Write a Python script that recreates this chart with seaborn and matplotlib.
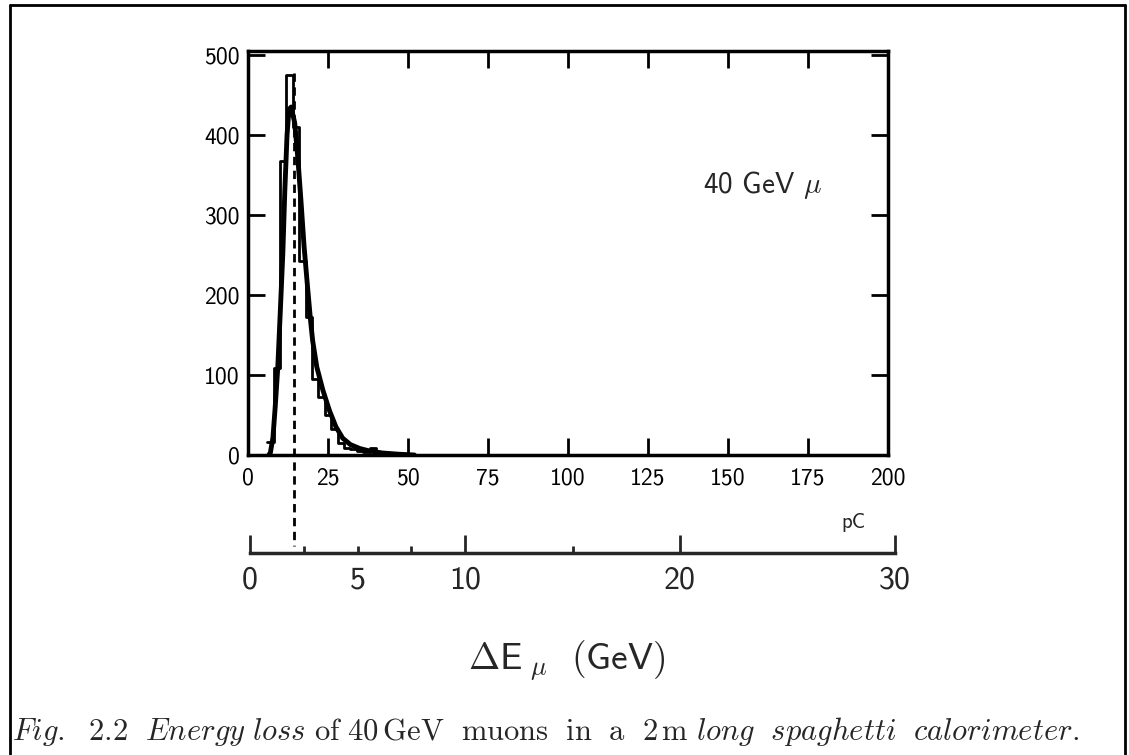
import matplotlib
matplotlib.use("Agg")
import matplotlib.pyplot as plt
from matplotlib.lines import Line2D
from matplotlib.ticker import FixedLocator, FixedFormatter
import seaborn as sns
import numpy as np
import pandas as pd

# ---------------- data ----------------
bin_left_pC = [6, 8, 10, 12, 14, 16, 18, 20, 22, 24, 26, 28, 30, 32, 34, 36, 38, 40, 42, 44, 46]
bin_counts = [16, 109, 368, 475, 410, 242, 172, 95, 72, 50, 33, 15, 9, 7, 5, 4, 9, 4, 3, 2, 1]
bin_width_pC = 2

curve_x = [6.5, 7.0, 7.8, 8.5, 9.3, 10.1, 10.9, 11.5, 12.2, 12.8, 13.5, 14.6, 15.6, 16.6,
           17.5, 18.5, 19.5, 20.2, 21.5, 23.4, 25.5, 27.5, 29.6, 32, 35, 38, 42, 47, 52]
curve_y = [0, 3, 22, 60, 109, 180, 254, 330, 400, 432, 435, 415, 370, 315,
           262, 215, 170, 143, 110, 81, 55, 35, 21, 13, 8, 5, 2.5, 1, 0]

peak_pC = 14.5
x_ticks_pC = [0, 25, 50, 75, 100, 125, 150, 175, 200]
y_ticks = [0, 100, 200, 300, 400, 500]
gev_major = [0, 10, 20, 30]
gev_minor = [2.5, 5, 7.5, 15]
gev_minor_labels = ["", "5", "", ""]

caption = (r"$\mathit{Fig.\ \ 2.2\ \ Energy\ loss}\ \mathrm{of\ 40\,GeV\ \ muons\ \ in\ \ a\ \ 2\,m}"
           r"\ \mathit{long\ \ spaghetti\ \ calorimeter.}$")

# ---------------- style ----------------
sns.set_style("white")
plt.rcParams["font.family"] = ["cmss10", "DejaVu Sans"]
plt.rcParams["mathtext.fontset"] = "cm"
plt.rcParams["axes.unicode_minus"] = False
plt.rcParams["axes.formatter.use_mathtext"] = False

fig = plt.figure(figsize=(11.29, 7.55), dpi=100)
W, H = 1129.0, 755.0

ax = fig.add_axes([248 / W, 1 - 455 / H, 640 / W, 404 / H])

edges = list(bin_left_pC) + [bin_left_pC[-1] + bin_width_pC]
centers = [b + bin_width_pC / 2 for b in bin_left_pC]
hist_df = pd.DataFrame({"pC": centers, "n": bin_counts})
sns.histplot(data=hist_df, x="pC", weights="n", bins=edges, element="step",
             fill=False, color="black", linewidth=2.0, ax=ax)

curve_df = pd.DataFrame({"pC": curve_x, "n": curve_y})
sns.lineplot(data=curve_df, x="pC", y="n", color="black", linewidth=3.5, ax=ax)

ax.set_xlim(0, 200)
ax.set_ylim(0, 505)
ax.set_xlabel("")
ax.set_ylabel("")
ax.set_xticks(x_ticks_pC)
ax.set_xticklabels([str(v) for v in x_ticks_pC])
ax.set_yticks(y_ticks)
ax.set_yticklabels([str(v) for v in y_ticks])
ax.tick_params(axis="both", direction="in", length=12, width=2,
               bottom=True, left=True, top=True, right=True,
               labelsize=17, colors="black")
ax.tick_params(axis="x", pad=9)
ax.tick_params(axis="y", pad=6)
for s in ax.spines.values():
    s.set_visible(True)
    s.set_linewidth(2.5)
    s.set_color("black")

# dashed line at the peak, running down to the GeV axis
ax.plot([peak_pC, peak_pC], [478, -114], color="black", lw=2.0,
        linestyle=(0, (3, 2)), clip_on=False)

fig.text(763 / W, 1 - 185 / H, r"40 GeV $\mu$", fontsize=21, ha="center", va="center")
fig.text(853 / W, 1 - 522 / H, "pC", fontsize=15, ha="center", va="center")

# secondary GeV axis
ax2 = fig.add_axes([250 / W, 1 - 553 / H, 645 / W, 0.02])
ax2.set_facecolor("none")
for side in ["top", "left", "right"]:
    ax2.spines[side].set_visible(False)
ax2.spines["bottom"].set_linewidth(2.5)
ax2.set_xlim(0, 30)
ax2.set_yticks([])
ax2.xaxis.set_major_locator(FixedLocator(gev_major))
ax2.xaxis.set_major_formatter(FixedFormatter([str(v) for v in gev_major]))
ax2.xaxis.set_minor_locator(FixedLocator(gev_minor))
ax2.xaxis.set_minor_formatter(FixedFormatter(gev_minor_labels))
ax2.tick_params(axis="x", which="major", direction="in", length=13, width=2,
                bottom=True, labelsize=23, pad=9)
ax2.tick_params(axis="x", which="minor", direction="in", length=5, width=2,
                bottom=True, labelsize=23, pad=9)

fig.text(567 / W, 1 - 660 / H, r"$\Delta\mathsf{E}_{\ \mu}\ \ \mathsf{(GeV)}$",
         fontsize=27, ha="center", va="center")

fig.text(12 / W, 1 - 740 / H, caption, fontsize=22, ha="left", va="baseline")

# page frame
fig.add_artist(Line2D([10 / W, 10 / W], [0, 1 - 5 / H], color="black", lw=2))
fig.add_artist(Line2D([10 / W, 1125 / W], [1 - 5 / H, 1 - 5 / H], color="black", lw=2))
fig.add_artist(Line2D([1125 / W, 1125 / W], [0, 1 - 5 / H], color="black", lw=2))

fig.savefig("out.png", dpi=100)
